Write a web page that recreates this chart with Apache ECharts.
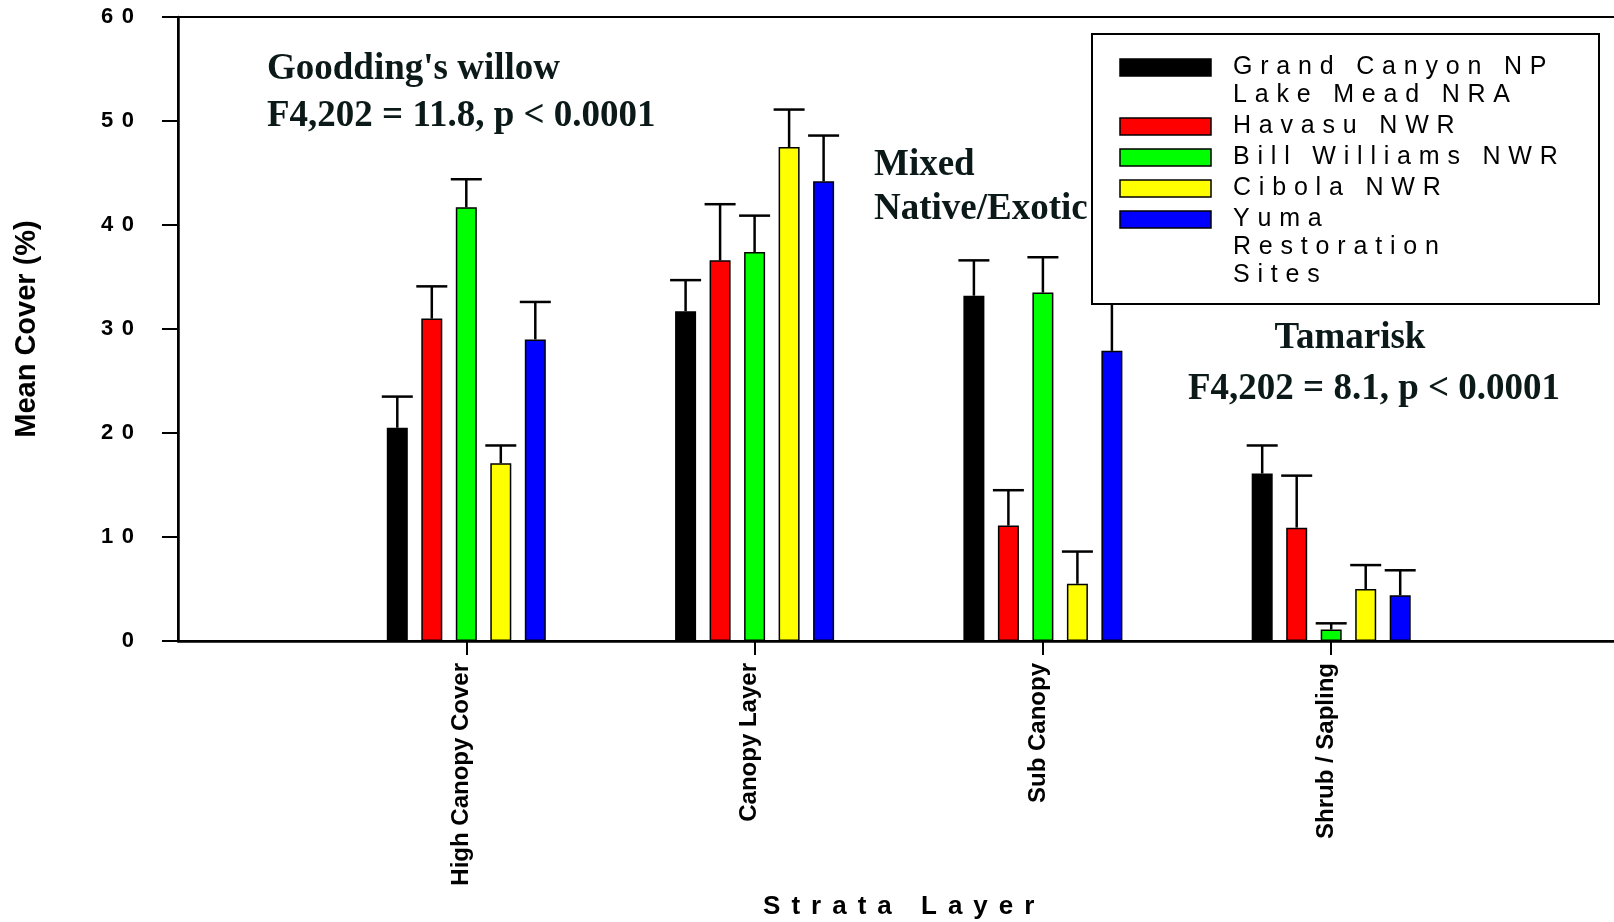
<!DOCTYPE html>
<html>
<head>
<meta charset="utf-8">
<script src="https://cdn.jsdelivr.net/npm/echarts@6/dist/echarts.min.js"></script>
<style>
  html, body { margin: 0; padding: 0; background: #fff; }
  #chart { width: 1614px; height: 922px; }
</style>
</head>
<body>
<div id="chart"></div>
<script>
// Strata layers (x categories)
const strata = ['High Canopy Cover', 'Canopy Layer', 'Sub Canopy', 'Shrub / Sapling'];

// Sites (series), legend labels and fill colours
const siteNames = ['Grand Canyon NP\nLake Mead NRA', 'Havasu NWR', 'Bill Williams NWR', 'Cibola NWR', 'Yuma\nRestoration\nSites'];
const siteColors = ['#000000', '#ff0000', '#00ff00', '#ffff00', '#0000ff'];

// Mean cover (%) per stratum, and the upper error (SE) for each
const grandCanyonMean = [20.5, 31.7, 33.2, 16.1];
const grandCanyonErr  = [3.0, 3.0, 3.4, 2.7];
const havasuMean      = [31.0, 36.6, 11.1, 10.9];
const havasuErr       = [3.1, 5.4, 3.4, 5.0];
const billWilliamsMean = [41.7, 37.4, 33.5, 1.1];
const billWilliamsErr  = [2.7, 3.5, 3.4, 0.6];
const cibolaMean      = [17.1, 47.5, 5.5, 5.0];
const cibolaErr       = [1.7, 3.6, 3.1, 2.3];
const yumaMean        = [29.0, 44.2, 27.9, 4.4];
const yumaErr         = [3.6, 4.4, 5.5, 2.4];

// Y axis range
const yMin = 0, yMax = 60, yStep = 10;

// Text annotations
const annoWillow = ["Goodding's willow", 'F4,202 = 11.8, p < 0.0001'];
const annoMixed = ['Mixed', 'Native/Exotic'];
const annoTamarisk = ['Tamarisk', 'F4,202 = 8.1, p < 0.0001'];

const means = [grandCanyonMean, havasuMean, billWilliamsMean, cibolaMean, yumaMean];
const errs = [grandCanyonErr, havasuErr, billWilliamsErr, cibolaErr, yumaErr];

const SANS = "'Liberation Sans', Arial, Helvetica, sans-serif";
const SERIF = "'Liberation Serif', 'Times New Roman', serif";
const ANNO_COLOR = '#0b1919';

const BAR_W = 21;
const BAR_GAP = 0.643;
const CAP_W = 31;
const nSeries = siteNames.length;

// Letter-spaced rich text: every character in its own token, all but the last padded on the right
function spaced(text, padStyle, endStyle) {
  const chars = text.split('');
  return chars.map((c, i) => '{' + (i < chars.length - 1 ? padStyle : endStyle) + '|' + c + '}').join('');
}

// Category axis with an empty slot at each end so groups sit one interval in from the frame
const axisCategories = [''].concat(strata, ['']);

const barSeries = means.map((m, i) => ({
  type: 'bar',
  name: siteNames[i],
  data: m.map((v, k) => [strata[k], v]),
  barWidth: BAR_W,
  barGap: (BAR_GAP * 100) + '%',
  itemStyle: { color: siteColors[i], borderColor: '#000', borderWidth: 1.5 },
  z: 2,
  silent: true
}));

const errorSeries = means.map((m, i) => ({
  type: 'custom',
  data: m.map((v, k) => [strata[k], v, v + errs[i][k]]),
  z: 3,
  silent: true,
  renderItem(params, api) {
    const idx = api.value(0);
    const base = api.coord([idx, api.value(1)]);
    const top = api.coord([idx, api.value(2)]);
    const x = base[0] + (i - (nSeries - 1) / 2) * BAR_W * (1 + BAR_GAP);
    return {
      type: 'group',
      children: [
        { type: 'line', shape: { x1: x, y1: base[1], x2: x, y2: top[1] }, style: { stroke: '#000', lineWidth: 2.5 } },
        { type: 'line', shape: { x1: x - CAP_W / 2, y1: top[1], x2: x + CAP_W / 2, y2: top[1] }, style: { stroke: '#000', lineWidth: 2.5 } }
      ]
    };
  }
}));

// Legend box drawn as graphics so the swatch lines up with each entry's first line
function buildLegend() {
  const box = { x: 1092, y: 34, w: 507, h: 270 };
  const swX = 1120, swW = 91, swH = 17, textX = 1233;
  const lineH = 28, itemGap = 31;
  const Z = 100;
  const items = [{
    type: 'rect', z: Z,
    shape: { x: box.x, y: box.y, width: box.w, height: box.h },
    style: { fill: '#fff', stroke: '#000', lineWidth: 2 }
  }];
  const rich = {
    p: { fontFamily: SANS, fontSize: 25, color: '#000', padding: [0, 7.8, 0, 0] },
    e: { fontFamily: SANS, fontSize: 25, color: '#000' }
  };
  let y = 67.5;
  siteNames.forEach((name, i) => {
    items.push({
      type: 'rect', z: Z + 1,
      shape: { x: swX, y: y - swH / 2, width: swW, height: swH },
      style: { fill: siteColors[i], stroke: '#000', lineWidth: 1.5 }
    });
    const lines = name.split('\n');
    lines.forEach((ln, j) => {
      items.push({
        type: 'text', z: Z + 1,
        style: {
          x: textX, y: y + j * lineH,
          text: spaced(ln, 'p', 'e'),
          rich: rich,
          verticalAlign: 'middle', align: 'left'
        }
      });
    });
    y += (lines.length - 1) * lineH + itemGap;
  });
  return items;
}

function annoText(t, x, y, align) {
  return {
    type: 'text',
    z: 90,
    style: {
      x: x, y: y, text: t,
      font: 'bold 37px ' + SERIF,
      fill: ANNO_COLOR,
      align: align || 'left', verticalAlign: 'middle'
    }
  };
}

const chart = echarts.init(document.getElementById('chart'), null, { renderer: 'canvas' });

chart.setOption({
  backgroundColor: '#ffffff',
  animation: false,
  grid: {
    left: 178, right: -5.5, top: 17, bottom: 281,
    show: true, borderColor: '#000', borderWidth: 2,
    outerBoundsMode: 'none'
  },
  xAxis: {
    type: 'category',
    data: axisCategories,
    boundaryGap: false,
    axisLine: { lineStyle: { color: '#000', width: 2.5 } },
    axisTick: { length: 14, lineStyle: { color: '#000', width: 2 }, interval: (i) => i > 0 && i < axisCategories.length - 1 },
    axisLabel: {
      rotate: 90, margin: 22, interval: 0,
      fontFamily: SANS, fontWeight: 'bold', fontSize: 24, color: '#000',
      verticalAlign: 'bottom', lineHeight: 10
    },
    splitLine: { show: false },
    name: spaced('Strata Layer', 'p', 'e'),
    nameLocation: 'middle',
    nameGap: 252,
    nameTextStyle: {
      rich: {
        p: { fontFamily: SANS, fontWeight: 'bold', fontSize: 26, color: '#000', padding: [0, 11, 0, 0] },
        e: { fontFamily: SANS, fontWeight: 'bold', fontSize: 26, color: '#000' }
      }
    }
  },
  yAxis: {
    type: 'value',
    min: yMin, max: yMax, interval: yStep,
    axisLine: { show: true, lineStyle: { color: '#000', width: 2.5 } },
    axisTick: { show: true, length: 16, lineStyle: { color: '#000', width: 2 } },
    splitLine: { show: false },
    axisLabel: {
      margin: 44,
      formatter: (v) => spaced(String(v), 'p', 'e'),
      rich: {
        p: { fontFamily: SANS, fontWeight: 'bold', fontSize: 22, color: '#000', padding: [0, 8.5, 0, 0] },
        e: { fontFamily: SANS, fontWeight: 'bold', fontSize: 22, color: '#000' }
      }
    },
    name: 'Mean Cover (%)',
    nameLocation: 'middle',
    nameRotate: 90,
    nameGap: 137,
    nameTextStyle: { fontFamily: SANS, fontWeight: 'bold', fontSize: 29, color: '#000' }
  },
  series: barSeries.concat(errorSeries),
  graphic: buildLegend().concat([
    annoText(annoWillow[0], 267, 69),
    annoText(annoWillow[1], 267, 116),
    annoText(annoMixed[0], 874, 165),
    annoText(annoMixed[1], 874, 209),
    annoText(annoTamarisk[0], 1350, 338, 'center'),
    annoText(annoTamarisk[1], 1374, 389, 'center')
  ])
});
</script>
</body>
</html>
